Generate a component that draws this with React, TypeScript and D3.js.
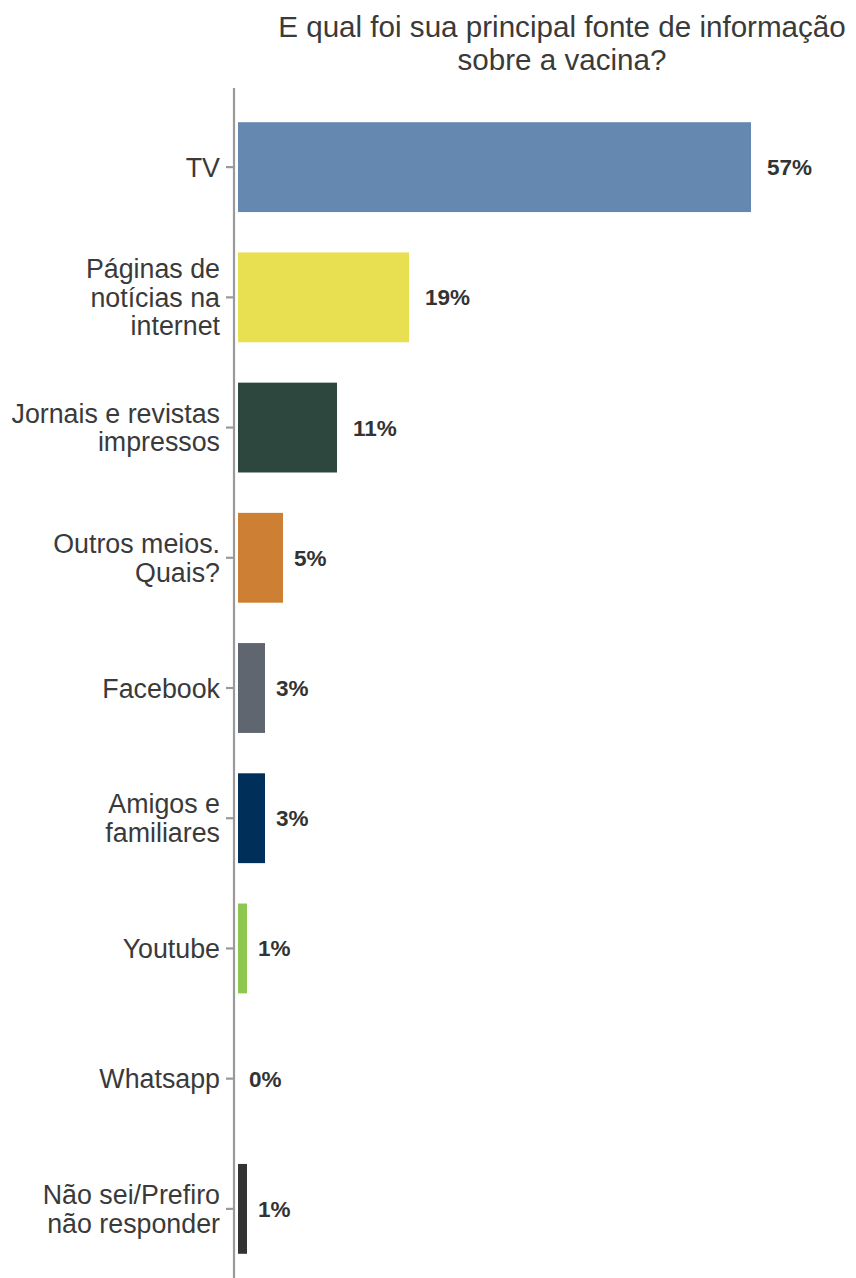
import * as d3 from 'd3'

const categories = [
  'TV',
  'Páginas de\nnotícias na\ninternet',
  'Jornais e revistas\nimpressos',
  'Outros meios.\nQuais?',
  'Facebook',
  'Amigos e\nfamiliares',
  'Youtube',
  'Whatsapp',
  'Não sei/Prefiro\nnão responder',
]
const values = [57, 19, 11, 5, 3, 3, 1, 0, 1]
const colors = ['#6488b0', '#e9e051', '#2d473e', '#cd8034', '#5f6670', '#00305a', '#8cc84f', '#7aa0c8', '#333333']
const titleLines = ['E qual foi sua principal fonte de informação', 'sobre a vacina?']

const W = 856
const H = 1278
const FONT = '"Liberation Sans", Arial, sans-serif'
const TEXT = '#3a3a3a'

export default function App() {
  const axisX = 234
  const x = d3.scaleLinear().domain([0, 57]).range([238, 751])
  const y = d3.scalePoint<string>().domain(categories).range([89, 1287]).padding(0.6)
  const bh = y.step() * 0.69
  const lineH = 28.5

  return (
    <svg width={W} height={H} style={{ position: 'absolute', left: 0, top: 0, background: '#fff' }}>
      <g fontFamily={FONT} fill={TEXT}>
        {titleLines.map((t, i) => (
          <text key={i} x={562} y={37 + i * 33} textAnchor="middle" fontSize={29.6}>
            {t}
          </text>
        ))}
      </g>
      <line x1={axisX} x2={axisX} y1={88} y2={H} stroke="#999" strokeWidth={2.2} />
      {categories.map((c, i) => {
        const cy = y(c)!
        const lines = c.split('\n')
        const v = values[i]
        return (
          <g key={c}>
            <line x1={226} x2={axisX} y1={cy} y2={cy} stroke="#999" strokeWidth={2.2} />
            {v > 0 && (
              <rect x={x(0)} y={cy - bh / 2} width={x(v) - x(0)} height={bh} fill={colors[i]} />
            )}
            <text textAnchor="end" fontFamily={FONT} fontSize={26.8} fill={TEXT}>
              {lines.map((l, j) => (
                <tspan key={j} x={220} y={cy - ((lines.length - 1) * lineH) / 2 + j * lineH + 9.5}>
                  {l}
                </tspan>
              ))}
            </text>
            <text
              x={x(v) + (v >= 10 ? 16 : 11)}
              y={cy + 8}
              fontFamily={FONT}
              fontSize={22.5}
              fontWeight="bold"
              fill="#333"
            >
              {v}%
            </text>
          </g>
        )
      })}
    </svg>
  )
}
